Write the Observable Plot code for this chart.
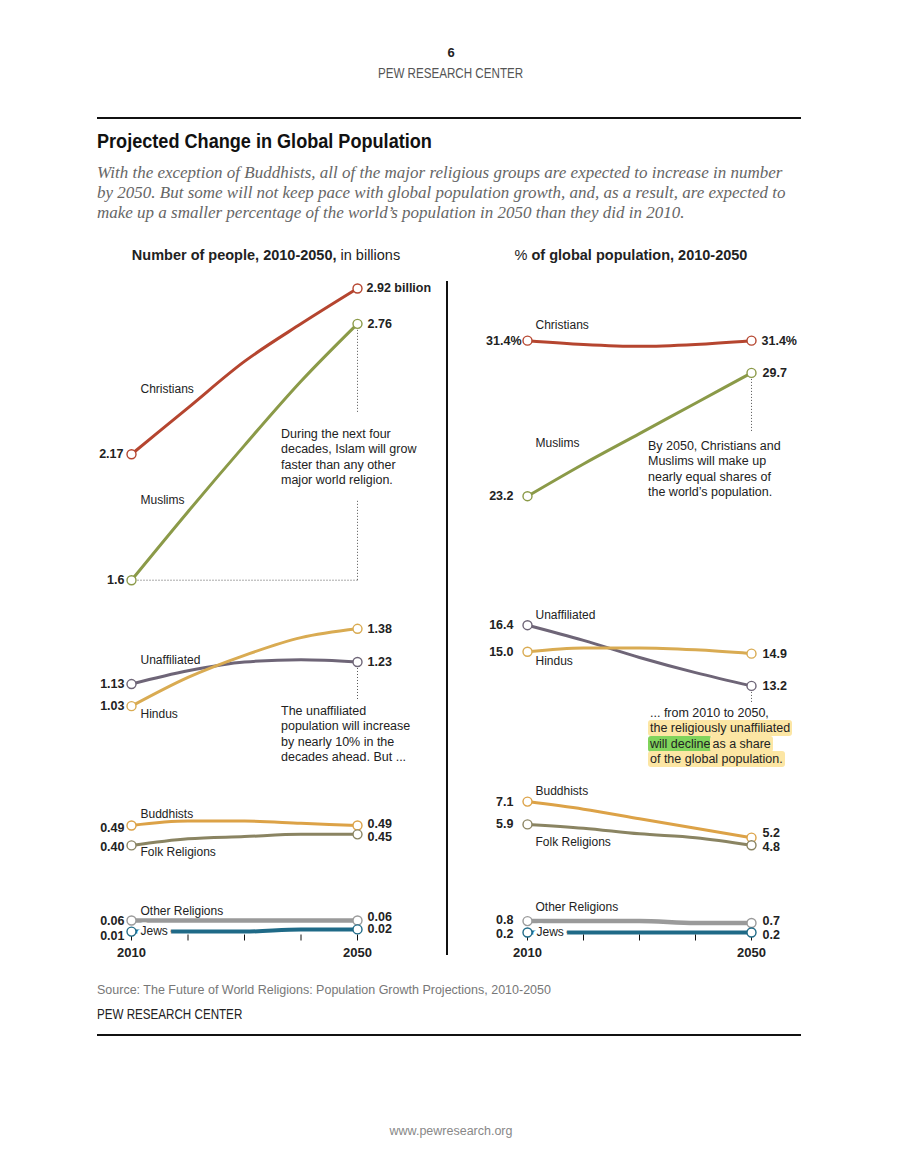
<!DOCTYPE html>
<html>
<head>
<meta charset="utf-8">
<script src="https://cdn.jsdelivr.net/npm/d3@7"></script>
<script src="https://cdn.jsdelivr.net/npm/@observablehq/plot@0.6"></script>
<style>
  html, body { margin: 0; padding: 0; background: #fff; }
  #page { position: relative; width: 902px; height: 1173px; background: #fff; font-family: "Liberation Sans", Arial, sans-serif; color: #222; overflow: hidden; }
  .abs { position: absolute; white-space: nowrap; }
  .cond { display: inline-block; transform-origin: left center; }
  .rule { position: absolute; background: #111; }
  .note { position: absolute; font-size: 12.5px; line-height: 15.3px; color: #222; background: #fff; white-space: nowrap; }
  .hy { background: #fce6a4; border-radius: 3px; padding: 1px 2px; margin-left: -2px; }
  .hg { background: #80d45c; border-radius: 3px; padding: 1px 2px; margin-left: -2px; }
</style>
</head>
<body>
<div id="page">
  <div class="abs" style="left:0;width:902px;text-align:center;top:45px;font-size:13px;font-weight:bold;line-height:16px;">6</div>
  <div class="abs" style="left:0;width:902px;text-align:center;top:65px;font-size:14px;line-height:16px;color:#555;"><span class="cond" style="transform:scaleX(0.83);transform-origin:center;">PEW RESEARCH CENTER</span></div>
  <div class="rule" style="left:97px;top:117px;width:704px;height:1.5px;"></div>
  <div class="abs" style="left:97px;top:129px;font-size:20px;font-weight:bold;line-height:24px;color:#111;"><span class="cond" style="transform:scaleX(0.905);">Projected Change in Global Population</span></div>
  <div class="abs" style="left:97px;top:163px;font-family:'Liberation Serif','Times New Roman',serif;font-style:italic;font-size:17px;line-height:20px;color:#666;">With the exception of Buddhists, all of the major religious groups are expected to increase in number<br>by 2050. But some will not keep pace with global population growth, and, as a result, are expected to<br>make up a smaller percentage of the world’s population in 2050 than they did in 2010.</div>

  <div class="abs" style="left:97px;width:338px;text-align:center;top:246px;font-size:14.5px;line-height:18px;"><b>Number of people, 2010-2050,</b> in billions</div>
  <div class="abs" style="left:462px;width:338px;text-align:center;top:246px;font-size:14.5px;line-height:18px;">% <b>of global population, 2010-2050</b></div>

  <div id="left" style="position:absolute;left:0;top:270px;"></div>
  <div id="right" style="position:absolute;left:451px;top:270px;"></div>

  <div class="rule" style="left:446px;top:281px;width:1.5px;height:674px;"></div>

  <div class="note" style="left:281px;top:413px;padding:14px 0 12px 0;">During the next four<br>decades, Islam will grow<br>faster than any other<br>major world religion.</div>
  <div class="note" style="left:281px;top:701px;padding:3px 0 4px 0;">The unaffiliated<br>population will increase<br>by nearly 10% in the<br>decades ahead. But ...</div>
  <div class="note" style="left:648px;top:432px;padding:7px 0 4px 0;">By 2050, Christians and<br>Muslims will make up<br>nearly equal shares of<br>the world’s population.</div>
  <div class="note" style="left:650px;top:702px;padding:4px 0 4px 0;">... from 2010 to 2050,<br><span class="hy">the religiously unaffiliated</span><br><span class="hg">will decline</span><span class="hy">as a share</span><br><span class="hy">of the global population.</span></div>

  <div class="abs" style="left:97px;top:982px;font-size:12.5px;line-height:16px;color:#777;">Source: The Future of World Religions: Population Growth Projections, 2010-2050</div>
  <div class="abs" style="left:97px;top:1006px;font-size:14px;line-height:16px;color:#222;"><span class="cond" style="transform:scaleX(0.83);">PEW RESEARCH CENTER</span></div>
  <div class="rule" style="left:97px;top:1034px;width:704px;height:1.5px;"></div>
  <div class="abs" style="left:0;width:902px;text-align:center;top:1123px;font-size:12.5px;line-height:16px;color:#888;">www.pewresearch.org</div>
</div>

<script>
// ---------- data ----------
const years = [2010, 2020, 2030, 2040, 2050];
const tickLabels = ["2010", "", "", "", "2050"];
const religions = ["Christians", "Muslims", "Unaffiliated", "Hindus", "Buddhists", "Folk Religions", "Other Religions", "Jews"];

// number of people, billions
const christiansCount   = [2.17, 2.38, 2.59, 2.76, 2.92];
const muslimsCount      = [1.60, 1.91, 2.21, 2.50, 2.76];
const unaffiliatedCount = [1.13, 1.19, 1.23, 1.24, 1.23];
const hindusCount       = [1.03, 1.16, 1.26, 1.34, 1.38];
const buddhistsCount    = [0.49, 0.51, 0.51, 0.50, 0.49];
const folkCount         = [0.40, 0.43, 0.44, 0.45, 0.45];
const otherCount        = [0.06, 0.06, 0.06, 0.06, 0.06];
const jewsCount         = [0.01, 0.01, 0.01, 0.02, 0.02];
const countStartLabels = ["2.17", "1.6", "1.13", "1.03", "0.49", "0.40", "0.06", "0.01"];
const countEndLabels   = ["2.92 billion", "2.76", "1.23", "1.38", "0.49", "0.45", "0.06", "0.02"];

// % of global population
const christiansPct   = [31.4, 31.2, 31.1, 31.2, 31.4];
const muslimsPct      = [23.2, 24.9, 26.5, 28.1, 29.7];
const unaffiliatedPct = [16.4, 15.6, 14.7, 13.9, 13.2];
const hindusPct       = [15.0, 15.2, 15.2, 15.1, 14.9];
const buddhistsPct    = [7.1, 6.7, 6.2, 5.7, 5.2];
const folkPct         = [5.9, 5.7, 5.4, 5.2, 4.8];
const otherPct        = [0.8, 0.8, 0.8, 0.7, 0.7];
const jewsPct         = [0.2, 0.2, 0.2, 0.2, 0.2];
const pctStartLabels = ["31.4%", "23.2", "16.4", "15.0", "7.1", "5.9", "0.8", "0.2"];
const pctEndLabels   = ["31.4%", "29.7", "13.2", "14.9", "5.2", "4.8", "0.7", "0.2"];

// ---------- styles ----------
const colors = ["#b5452f", "#8b9a48", "#6e6577", "#d9ab52", "#dca247", "#8a8462", "#9a9a9a", "#1f6a87"];
const widths = [3, 3, 3, 3, 3, 3, 4.5, 4];
const font = "Liberation Sans, Arial, sans-serif";

function rowsFor(series) {
  const rows = [];
  series.forEach((vals, i) => years.forEach((yr, j) => rows.push({religion: religions[i], idx: i, year: yr, value: vals[j]})));
  return rows;
}

function build(opts) {
  const rows = rowsFor(opts.series);
  const first = rows.filter(d => d.year === years[0]);
  const last = rows.filter(d => d.year === years[years.length - 1]);
  const marks = [];
  marks.push(Plot.link(opts.guides, {x1: "x1", y1: "y1", x2: "x2", y2: "y2", stroke: "#555", strokeWidth: 1, strokeDasharray: "1,2"}));
  religions.forEach((r, i) => {
    marks.push(Plot.line(rows.filter(d => d.idx === i), {x: "year", y: "value", stroke: colors[i], strokeWidth: widths[i], curve: "monotone-x"}));
  });
  marks.push(Plot.axisX({ticks: years, tickSize: 6, tickPadding: 7, tickFormat: d => tickLabels[years.indexOf(d)], fontSize: 13, fontWeight: "bold", fill: "#222", stroke: "#111", fontFamily: font}));
  marks.push(Plot.dot(first.concat(last), {x: "year", y: "value", r: 4.5, fill: "white", stroke: d => colors[d.idx], strokeWidth: 1.4}));
  // series names (Jews gets a white halo like the reference's label box)
  marks.push(Plot.text(first, {x: "year", y: "value", text: "religion", textAnchor: "start", fontSize: 12, fill: "#222", fontFamily: font,
    stroke: d => d.religion === "Jews" ? "white" : "none", strokeWidth: 7, strokeLinejoin: "round"}));
  marks.push(Plot.text(first, {x: "year", y: "value", text: d => opts.startLabels[d.idx], textAnchor: "end", fontSize: 12.5, fontWeight: "bold", fill: "#222", fontFamily: font}));
  marks.push(Plot.text(last, {x: "year", y: "value", text: d => opts.endLabels[d.idx], textAnchor: "start", fontSize: 12.5, fontWeight: "bold", fill: "#222", fontFamily: font}));

  const plot = Plot.plot({
    width: 451, height: 700,
    marginLeft: opts.marginLeft, marginRight: opts.marginRight, marginTop: 0, marginBottom: 35.5,
    x: {domain: [2010, 2050]},
    y: {domain: opts.yDomain, range: opts.yRange, axis: null},
    style: {background: "transparent", overflow: "visible"},
    marks
  });
  // per-label styling offsets
  const texts = plot.querySelectorAll("g[aria-label='text']");
  const [names, starts, ends] = texts;
  const shift = (t, dx, dy) => t.setAttribute("transform", ((t.getAttribute("transform") || "") + ` translate(${dx},${dy})`).trim());
  names.querySelectorAll("text").forEach((t, i) => shift(t, opts.nameDx[i], opts.nameDy[i]));
  starts.querySelectorAll("text").forEach((t, i) => shift(t, opts.startDx[i], opts.startDy[i]));
  ends.querySelectorAll("text").forEach((t, i) => shift(t, opts.endDx[i], opts.endDy[i]));
  return plot;
}

const left = build({
  series: [christiansCount, muslimsCount, unaffiliatedCount, hindusCount, buddhistsCount, folkCount, otherCount, jewsCount],
  startLabels: countStartLabels, endLabels: countEndLabels,
  marginLeft: 131, marginRight: 94,
  yDomain: [0, 3], yRange: [663.3, 0.3],
  nameDx: [9, 9, 9, 9, 9, 9, 9, 9],
  nameDy: [-65, -80, -24, 8, -11, 7, -9, 0],
  startDx: [-8, -7, -7, -7, -7, -7, -7, -7],
  startDy: [0, 0, 0, 0, 2, 2, 0, 4],
  endDx: [9, 10, 10, 10, 10, 10, 10, 10],
  endDy: [0, 0, 0, 0, -2, 3, -4, 0],
  guides: [
    {x1: 2050, y1: 2.76, x2: 2050, y2: 1.6},
    {x1: 2010, y1: 1.6, x2: 2050, y2: 1.6},
    {x1: 2050, y1: 1.23, x2: 2050, y2: 1.0}
  ]
});
const right = build({
  series: [christiansPct, muslimsPct, unaffiliatedPct, hindusPct, buddhistsPct, folkPct, otherPct, jewsPct],
  startLabels: pctStartLabels, endLabels: pctEndLabels,
  marginLeft: 76, marginRight: 151,
  yDomain: [0, 35], yRange: [665.8, 1.85],
  nameDx: [8, 8, 8, 8, 8, 8, 8, 9],
  nameDy: [-15, -53, -10, 9, -10, 18, -14, 0],
  startDx: [-6, -14, -14, -14, -14, -14, -14, -14],
  startDy: [0, 0, 0, 0, 0, 0, -1.5, 1.5],
  endDx: [10, 11, 11, 11, 11, 11, 11, 11],
  endDy: [0, 0, 0, 0, -5, 1.5, -2, 2],
  guides: [
    {x1: 2050, y1: 29.7, x2: 2050, y2: 26.3},
    {x1: 2050, y1: 13.2, x2: 2050, y2: 12.0}
  ]
});
document.getElementById("left").appendChild(left);
document.getElementById("right").appendChild(right);
</script>
</body>
</html>
